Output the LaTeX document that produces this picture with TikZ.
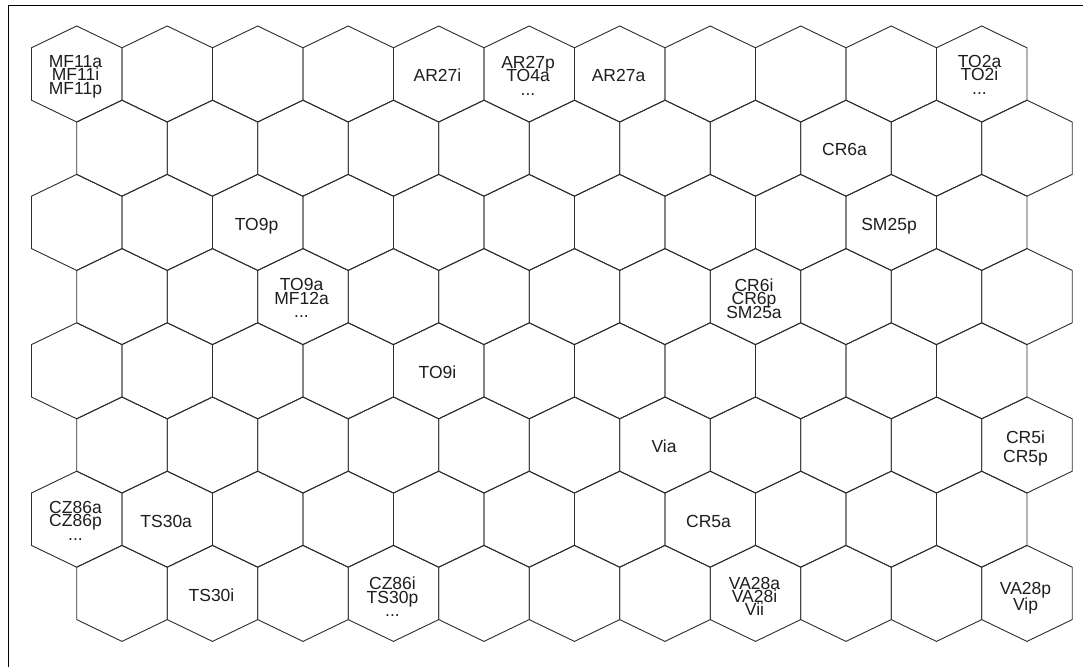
\documentclass[tikz,border=0pt]{standalone}
\usepackage{fontspec}
\setmainfont{Liberation Sans}
\definecolor{hexline}{RGB}{45,45,45}
\definecolor{txt}{RGB}{30,30,30}
\begin{document}
\begin{tikzpicture}[x=1pt,y=-1pt,
  hex/.style={draw=hexline,line width=0.9pt,line join=miter},
  lbl/.style={anchor=base,inner sep=0pt,text=txt,font=\fontsize{17.5}{17.5}\selectfont}]
\useasboundingbox (0,0) rectangle (1083,666);
\clip (0,0) rectangle (1083,666);
\fill[white] (0,0) rectangle (1083,666);
\draw[black,line width=1pt] (8.3,6) rectangle (1100,700);
\foreach \r in {0,...,7}{
  \foreach \c in {0,...,10}{
    \pgfmathsetmacro\cx{76.7+90.5*\c+45.25*mod(\r,2)}
    \pgfmathsetmacro\cy{74+74.2*\r}
    \draw[hex] (\cx,\cy-48) -- (\cx+45.25,\cy-26.2) -- (\cx+45.25,\cy+26.2)
      -- (\cx,\cy+48) -- (\cx-45.25,\cy+26.2) -- (\cx-45.25,\cy-26.2) -- cycle;
  }
}
% row 0
\node[lbl] (mf11a) at (75.5,67.5) {MF11a};
\node[lbl] (mf11i) at (75.5,81) {MF11i};
\node[lbl] (mf11p) at (75.5,94.5) {MF11p};
\node[lbl] (ar27i) at (437.5,81.7) {AR27i};
\node[lbl] (ar27p) at (528,68.5) {AR27p};
\node[lbl] (to4a) at (528,82) {TO4a};
\node[lbl] (dots1) at (528,95.5) {...};
\node[lbl] (ar27a) at (618.5,81.7) {AR27a};
\node[lbl] (to2a) at (979.5,67.5) {TO2a};
\node[lbl] (to2i) at (979.5,81) {TO2i};
\node[lbl] (dots2) at (979.5,94.5) {...};
% row 1
\node[lbl] (cr6a) at (844.5,155.9) {CR6a};
% row 2
\node[lbl] (to9p) at (256.5,230.1) {TO9p};
\node[lbl] (sm25p) at (889,230.1) {SM25p};
% row 3
\node[lbl] (to9a) at (301.5,290.5) {TO9a};
\node[lbl] (mf12a) at (301.5,304) {MF12a};
\node[lbl] (dots3) at (301.5,317.5) {...};
\node[lbl] (cr6i) at (754,291) {CR6i};
\node[lbl] (cr6p) at (754,304.5) {CR6p};
\node[lbl] (sm25a) at (754,318) {SM25a};
% row 4
\node[lbl] (to9i) at (437.5,378.5) {TO9i};
% row 5
\node[lbl] (via) at (664,452.9) {Via};
\node[lbl] (cr5i) at (1025.5,443.5) {CR5i};
\node[lbl] (cr5p) at (1025.5,462) {CR5p};
% row 6
\node[lbl] (cz86a) at (75.5,513) {CZ86a};
\node[lbl] (cz86p) at (75.5,526.7) {CZ86p};
\node[lbl] (dots4) at (75.5,540.5) {...};
\node[lbl] (ts30a) at (166.2,527.2) {TS30a};
\node[lbl] (cr5a) at (708.5,527.2) {CR5a};
% row 7
\node[lbl] (ts30i) at (211.5,601.2) {TS30i};
\node[lbl] (cz86i) at (392.5,589) {CZ86i};
\node[lbl] (ts30p) at (392.5,603) {TS30p};
\node[lbl] (dots5) at (392.5,616.5) {...};
\node[lbl] (va28a) at (754.5,589) {VA28a};
\node[lbl] (va28i) at (754.5,602) {VA28i};
\node[lbl] (vii) at (754.5,615) {Vii};
\node[lbl] (va28p) at (1025.5,594) {VA28p};
\node[lbl] (vip) at (1025.5,610) {Vip};
\end{tikzpicture}
\end{document}
